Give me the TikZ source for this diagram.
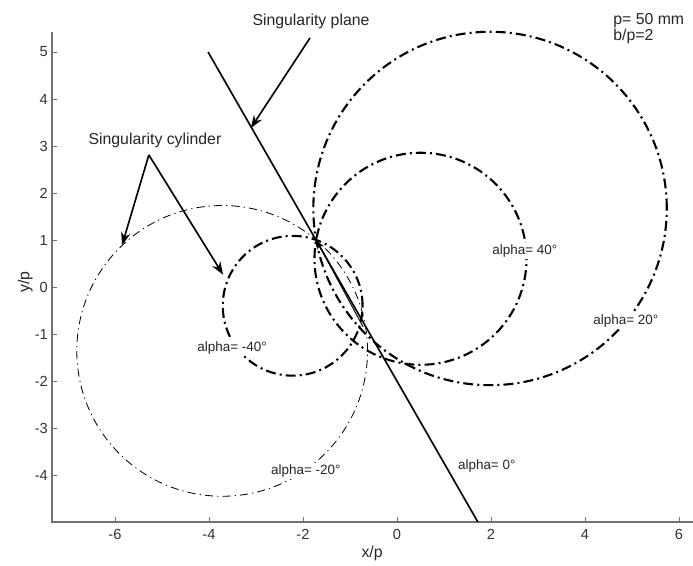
\documentclass[tikz,border=0pt]{standalone}
\usepackage{fontspec}
\setmainfont{Liberation Sans}
\usetikzlibrary{arrows.meta}

\begin{document}
\begin{tikzpicture}[x=1.41cm,y=1.41cm,
lbl/.style={font=\fontsize{13.5}{16}\selectfont,inner sep=0pt,text=black!85},
anglelbl/.style={font=\fontsize{11.5}{14}\selectfont,inner sep=1.5pt,fill=white,text=black!85},
ticklbl/.style={font=\fontsize{12.5}{15}\selectfont,inner sep=0pt,text=black!80},
axis/.style={line width=1.1pt,draw=black!55},
arrow/.style={-{Stealth[length=11pt,width=8pt]},line width=1.4pt},
smallarrow/.style={-{Stealth[length=8pt,width=6pt]},line width=0.8pt},
plane/.style={line width=1.4pt},
thickcurve/.style={line width=1.8pt,dash pattern=on 8.5pt off 3.5pt on 1.7pt off 3.5pt},
thincurve/.style={line width=0.7pt,dash pattern=on 7pt off 3.5pt on 1pt off 3.5pt}]

\useasboundingbox (-8.447,-5.936) rectangle (6.298,6.106);

% axes
\coordinate (O) at (-7.34,-5);
\coordinate (ytop) at (-7.34,5.43);
\coordinate (xend) at (6.3,-5);
\draw[axis] (ytop) -- (O) -- (xend);
\foreach \x in {-6,-4,...,6}
  \draw[axis,line width=0.8pt] (\x,-5) -- (\x,-4.89) node[ticklbl,anchor=north,yshift=-0.2cm] at (\x,-5) {\x};
\foreach \y in {-4,...,5}
  \draw[axis,line width=0.8pt] (-7.34,\y) -- (-7.23,\y) node[ticklbl,anchor=east] at (-7.42,\y) {\y};
\node[lbl,rotate=90] (ylabel) at (-7.91,0.1) {y/p};
\node[lbl] (xlabel) at (-0.53,-5.66) {x/p};

% circles through the common point
\coordinate (P) at (-1.72,1.0);
\coordinate (c20) at (1.98,1.67);
\coordinate (c40) at (0.5,0.6);
\coordinate (cm40) at (-2.22,-0.4);
\coordinate (cm20) at (-3.72,-1.36);
\draw[thickcurve] (c20) circle[radius=3.760];
\draw[thickcurve] (c40) circle[radius=2.256];
\draw[thickcurve] (cm40) circle[radius=1.487];
\draw[thincurve] (cm20) circle[radius=3.093];

% singularity plane (alpha = 0)
\coordinate (ptop) at (-4.02,5);
\coordinate (pbot) at (1.72,-5);
\draw[plane] (ptop) -- (pbot);
\coordinate (kink) at (-0.72,-0.85);
\draw[smallarrow] (kink) -- (P);

% labels
\node[lbl] (planelbl) at (-1.83,5.66) {Singularity plane};
\node[lbl] (cyllbl) at (-5.15,3.11) {Singularity cylinder};
\node[lbl,anchor=west] (plbl) at (4.6,5.66) {p= 50 mm};
\node[lbl,anchor=west] (bplbl) at (4.6,5.34) {b/p=2};
\node[anglelbl] (a40) at (2.72,0.77) {alpha= 40°};
\node[anglelbl] (a20) at (4.87,-0.72) {alpha= 20°};
\node[anglelbl] (am40) at (-3.51,-1.30) {alpha= -40°};
\node[anglelbl] (am20) at (-1.94,-3.91) {alpha= -20°};
\node[anglelbl] (a0) at (1.91,-3.81) {alpha= 0°};

% arrows
\coordinate (planetail) at (-1.85,5.30);
\coordinate (planetip) at (-3.11,3.38);
\draw[arrow] (planetail) -- (planetip);
\coordinate (cylfork) at (-5.28,2.81);
\coordinate (cyltipA) at (-5.85,0.89);
\coordinate (cyltipB) at (-3.70,0.26);
\draw[arrow] (cylfork) -- (cyltipA);
\draw[arrow] (cylfork) -- (cyltipB);

\end{tikzpicture}
\end{document}
